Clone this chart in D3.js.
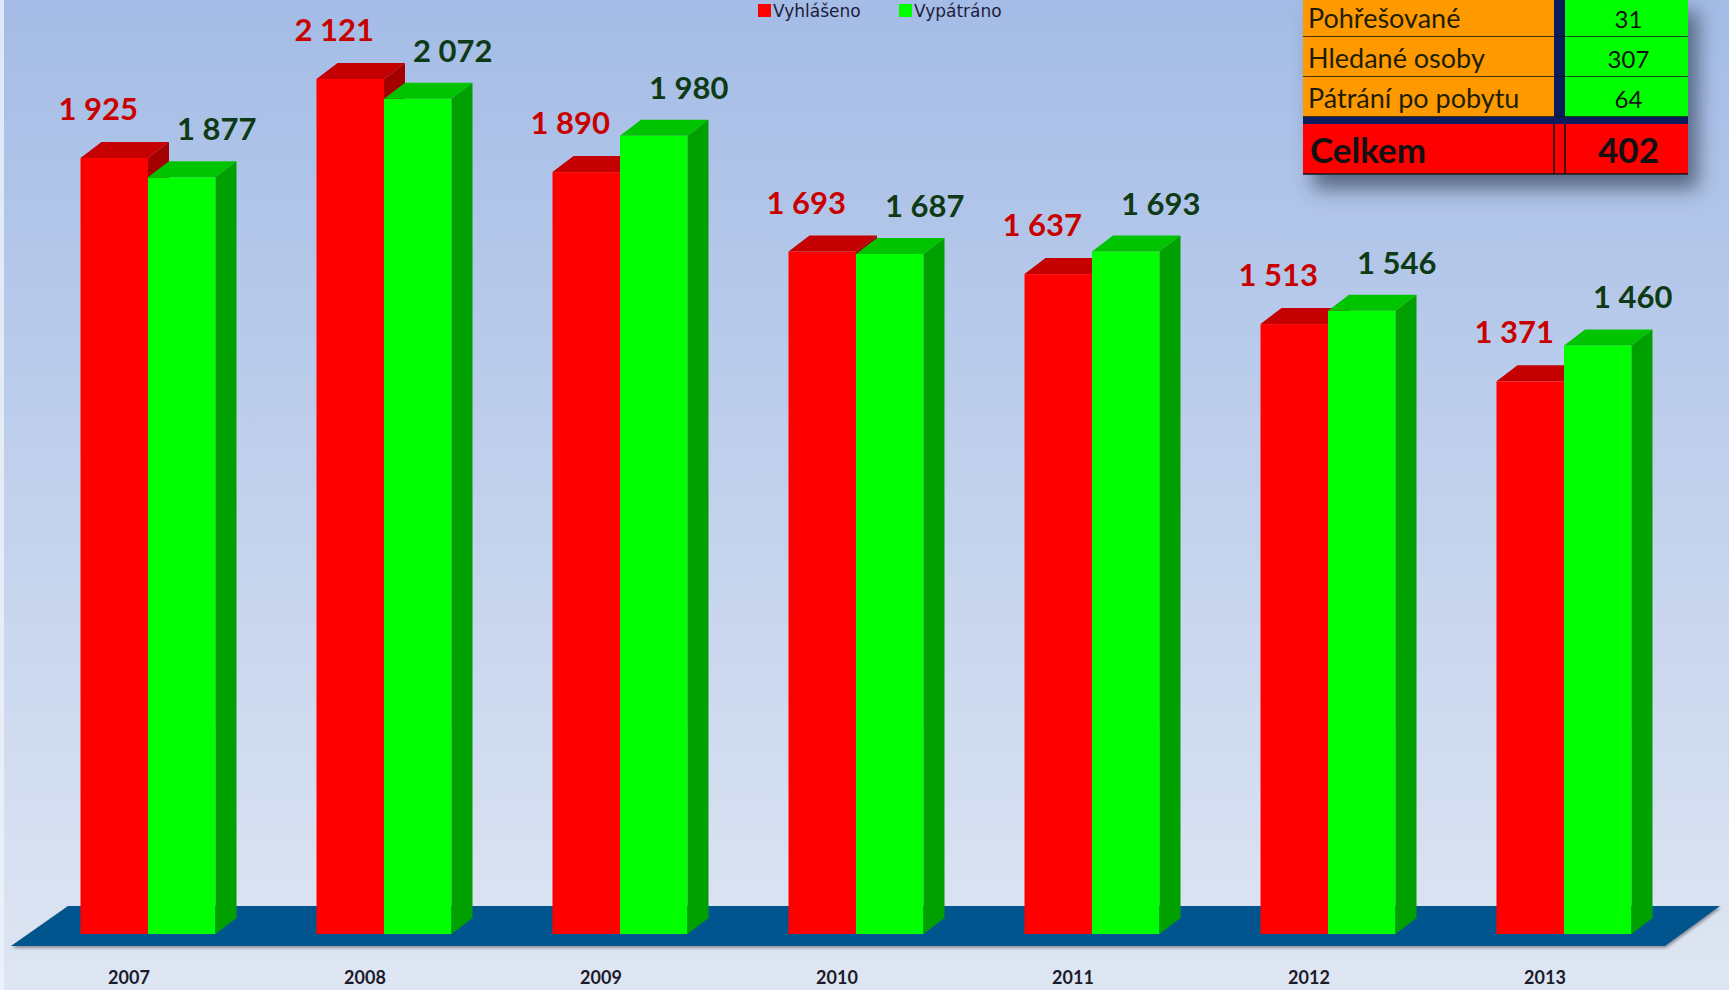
<!DOCTYPE html>
<html>
<head>
<meta charset="utf-8">
<script src="https://cdn.jsdelivr.net/npm/d3@7/dist/d3.min.js"></script>
<style>
  html, body { margin: 0; padding: 0; overflow: hidden; }
  svg { display: block; }
</style>
</head>
<body>
<svg width="1729" height="990"></svg>
<script>
var years = ["2007", "2008", "2009", "2010", "2011", "2012", "2013"];
var vyhlaseno = [1925, 2121, 1890, 1693, 1637, 1513, 1371];
var vypatrano = [1877, 2072, 1980, 1687, 1693, 1546, 1460];
var seriesNames = ["Vyhlášeno", "Vypátráno"];
var tableLabels = ["Pohřešované", "Hledané osoby", "Pátrání po pobytu"];
var tableValues = [31, 307, 64];
var totalLabel = "Celkem";
var totalValue = 402;

var W = 1729, H = 990;
var depthX = 21, depthY = 16;
var barW = 67.5;

var colors = {
	red: {front: "#ff0000", top: "#c40000", side: "#a50000", label: "#c80000"},
	green: {front: "#00ff00", top: "#00c400", side: "#00a000", label: "#0e3a16"}
};

var fmt = d3.formatLocale({decimal: ",", thousands: " ", grouping: [3], currency: ["", ""]}).format(",d");

var svg = d3.select("svg");
var defs = svg.append("defs");

var bg = defs.append("linearGradient").attr("id", "bg")
	.attr("x1", 0).attr("y1", 0).attr("x2", 0).attr("y2", 1);
bg.append("stop").attr("offset", "0%").attr("stop-color", "#a4bce6");
bg.append("stop").attr("offset", "100%").attr("stop-color", "#dfe6f3");

var sh = defs.append("filter").attr("id", "shadow")
	.attr("x", "-20%").attr("y", "-20%").attr("width", "150%").attr("height", "160%");
sh.append("feDropShadow").attr("dx", 10).attr("dy", 14).attr("stdDeviation", 10)
	.attr("flood-color", "#3a4660").attr("flood-opacity", 0.75);

var fsh = defs.append("filter").attr("id", "floorShadow")
	.attr("x", "-5%").attr("y", "-50%").attr("width", "110%").attr("height", "200%");
fsh.append("feDropShadow").attr("dx", 1).attr("dy", 2).attr("stdDeviation", 1.5)
	.attr("flood-color", "#555").attr("flood-opacity", 0.6);

svg.append("rect").attr("width", W).attr("height", H).attr("fill", "url(#bg)");
svg.append("rect").attr("width", 4).attr("height", H).attr("fill", "#eef2fa").attr("opacity", 0.8);

var x = d3.scaleBand().domain(years).range([30, 1682]);
var y = d3.scaleLinear().domain([0, 2121]).range([934, 79]);

function cx(d) { return x(d) + x.bandwidth() / 2; }

// floor
var x0 = x.range()[0], x1 = x.range()[1], yb = y(0);
svg.append("polygon")
	.attr("points", [
		[x0 - 19, yb + 12], [x0 + 38, yb - 28],
		[x1 + 38, yb - 28], [x1 - 17, yb + 12]
	].map(function(p) { return p.join(","); }).join(" "))
	.attr("fill", "#03558f")
	.attr("filter", "url(#floorShadow)");

var bars = [];
years.forEach(function(yr, i) {
	bars.push({year: yr, v: vyhlaseno[i], x: cx(yr) - barW, c: colors.red, s: 0});
	bars.push({year: yr, v: vypatrano[i], x: cx(yr), c: colors.green, s: 1});
});

var g = svg.selectAll("g.bar")
	.data(bars)
	.enter()
	.append("g")
	.attr("class", "bar");

g.append("rect")
	.attr("x", function(d) { return d.x; })
	.attr("y", function(d) { return y(d.v); })
	.attr("width", barW)
	.attr("height", function(d) { return y(0) - y(d.v); })
	.attr("fill", function(d) { return d.c.front; });

g.append("polygon")
	.attr("points", function(d) {
		var t = y(d.v);
		return [[d.x, t], [d.x + depthX, t - depthY], [d.x + barW + depthX, t - depthY], [d.x + barW, t]].join(" ");
	})
	.attr("fill", function(d) { return d.c.top; });

g.append("polygon")
	.attr("points", function(d) {
		var t = y(d.v), r = d.x + barW;
		return [[r, t], [r + depthX, t - depthY], [r + depthX, y(0) - depthY], [r, y(0)]].join(" ");
	})
	.attr("fill", function(d) { return d.c.side; });

svg.selectAll("text.val")
	.data(bars)
	.enter()
	.append("text")
	.attr("class", "val")
	.attr("x", function(d) { return d.x + barW / 2 + (d.s ? 35 : -16); })
	.attr("y", function(d) { return y(d.v) - (d.s ? 37 : 38); })
	.attr("text-anchor", "middle")
	.style("font-family", "Lato, 'Open Sans', sans-serif")
	.style("font-weight", "bold")
	.style("font-size", "31px")
	.style("fill", function(d) { return d.c.label; })
	.text(function(d) { return fmt(d.v); });

svg.selectAll("text.year")
	.data(years)
	.enter()
	.append("text")
	.attr("class", "year")
	.attr("x", function(d) { return cx(d) - 19; })
	.attr("y", 984)
	.attr("text-anchor", "middle")
	.style("font-family", "Lato, sans-serif")
	.style("font-weight", "bold")
	.style("font-size", "18px")
	.style("fill", "#1b1b2b")
	.text(function(d) { return d; });

// legend
var legend = svg.append("g").attr("transform", "translate(758,4)");
var li = legend.selectAll("g")
	.data(seriesNames)
	.enter()
	.append("g")
	.attr("transform", function(d, i) { return "translate(" + (i * 141) + ",0)"; });
li.append("rect").attr("width", 13).attr("height", 13)
	.attr("fill", function(d, i) { return i ? colors.green.front : colors.red.front; });
li.append("text").attr("x", 15).attr("y", 13)
	.style("font-family", "'DejaVu Sans', sans-serif")
	.style("font-size", "17px")
	.style("fill", "#1d1d3a")
	.text(function(d) { return d; });

// summary table
var tL = 1303, tM = 1554, tM2 = 1565, tR = 1688, rowH = 40, tTop = -3;
var table = svg.append("g").attr("filter", "url(#shadow)");
var rows = table.selectAll("g.row")
	.data(tableLabels)
	.enter()
	.append("g")
	.attr("class", "row")
	.attr("transform", function(d, i) { return "translate(0," + (tTop + i * rowH) + ")"; });
rows.append("rect").attr("x", tL).attr("width", tM - tL).attr("height", rowH).attr("fill", "#ff9900");
rows.append("rect").attr("x", tM).attr("width", tM2 - tM).attr("height", rowH).attr("fill", "#0a1f5c");
rows.append("rect").attr("x", tM2).attr("width", tR - tM2).attr("height", rowH).attr("fill", "#00ff00");
rows.append("line").attr("x1", tL).attr("x2", tR).attr("y1", rowH).attr("y2", rowH)
	.attr("stroke", "#111").attr("stroke-width", 1.5);

var tbY = tTop + tableLabels.length * rowH;
table.append("rect").attr("x", tL).attr("y", tbY).attr("width", tR - tL).attr("height", 7).attr("fill", "#0a1f5c");
table.append("rect").attr("x", tL).attr("y", tbY + 7).attr("width", tR - tL).attr("height", 50).attr("fill", "#ff0000");
table.append("line").attr("x1", tM).attr("x2", tM).attr("y1", tbY + 7).attr("y2", tbY + 57).attr("stroke", "#111").attr("stroke-width", 1.5);
table.append("line").attr("x1", tM2).attr("x2", tM2).attr("y1", tbY + 7).attr("y2", tbY + 57).attr("stroke", "#111").attr("stroke-width", 1.5);
table.append("line").attr("x1", tL).attr("x2", tR).attr("y1", tbY + 57).attr("y2", tbY + 57).attr("stroke", "#111").attr("stroke-width", 1.5);

var tt = svg.append("g");
tt.selectAll("text.lab")
	.data(tableLabels)
	.enter()
	.append("text")
	.attr("x", tL + 5)
	.attr("y", function(d, i) { return tTop + i * rowH + 31; })
	.style("font-family", "Lato, sans-serif")
	.style("font-size", "27px")
	.style("fill", "#1e1e06")
	.text(function(d) { return d; });
tt.selectAll("text.num")
	.data(tableValues)
	.enter()
	.append("text")
	.attr("x", (tM2 + tR) / 2 + 2)
	.attr("y", function(d, i) { return tTop + i * rowH + 31; })
	.attr("text-anchor", "middle")
	.style("font-family", "Lato, sans-serif")
	.style("font-size", "24px")
	.style("fill", "#111")
	.text(function(d) { return d; });
tt.append("text").attr("x", tL + 7).attr("y", tbY + 46)
	.style("font-family", "Lato, sans-serif").style("font-weight", "bold")
	.style("font-size", "35px").style("fill", "#111").text(totalLabel);
tt.append("text").attr("x", (tM2 + tR) / 2 + 2).attr("y", tbY + 46).attr("text-anchor", "middle")
	.style("font-family", "Lato, sans-serif").style("font-weight", "bold")
	.style("font-size", "35px").style("fill", "#111").text(totalValue);
</script>
</body>
</html>
